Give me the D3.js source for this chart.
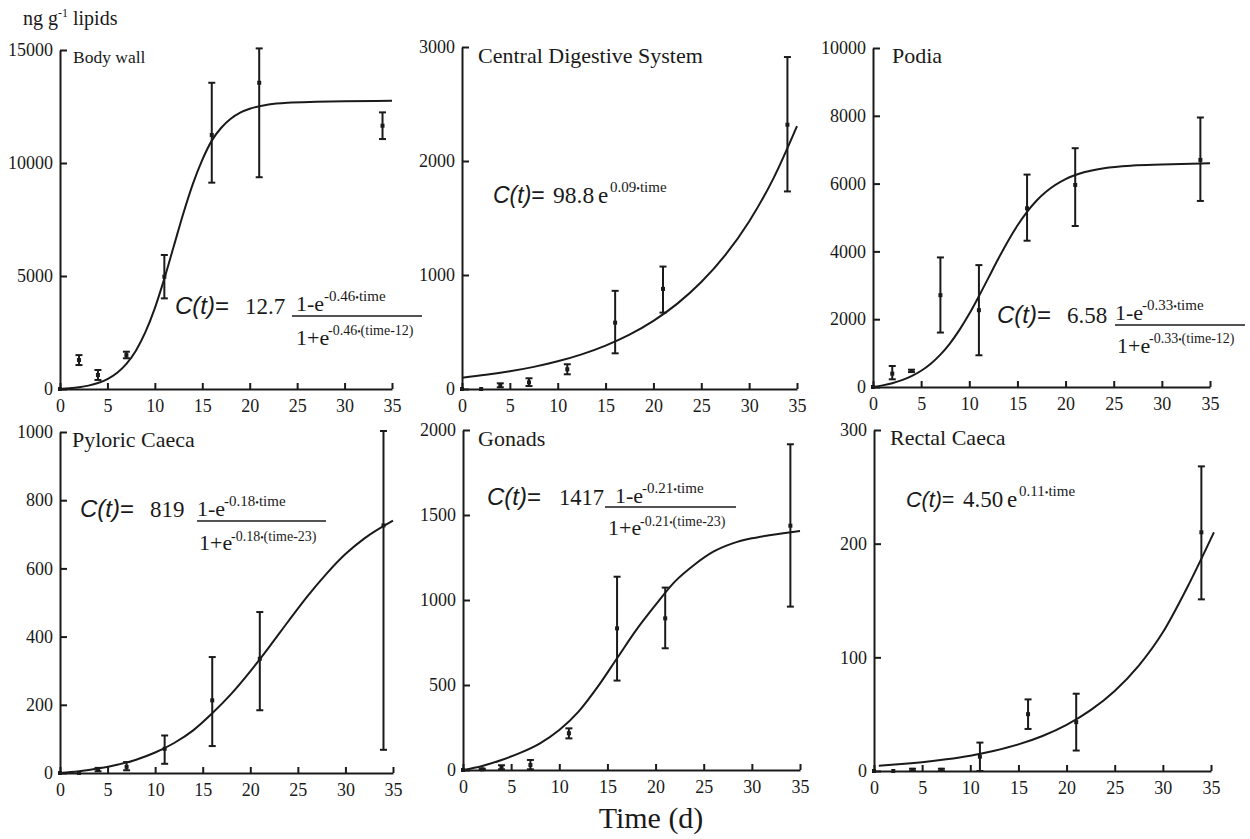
<!DOCTYPE html>
<html>
<head>
<meta charset="utf-8">
<script src="https://cdn.jsdelivr.net/npm/d3@7"></script>
<style>
body { margin: 0; background: #fff; }
svg text { font-family: "Liberation Serif", "Times New Roman", serif; }
.axis path, .axis line { stroke: #1a1a1a; stroke-width: 2; }
.axis text { font-size: 18px; fill: #1a1a1a; }
</style>
</head>
<body>
<div id="vis"></div>
<script>
// sampling days
var times = [0, 2, 4, 7, 11, 16, 21, 34];
var xTicks = [0, 5, 10, 15, 20, 25, 30, 35];

// measured means and error bar ends (ng g-1 lipids)
var bodyWallMean = [0, 1280, 620, 1500, 4970, 11240, 13550, 11650];
var bodyWallLow  = [0, 1060, 400, 1360, 4010, 9130, 9370, 11060];
var bodyWallHigh = [0, 1500, 840, 1650, 5930, 13550, 15070, 12240];

var cdsMean = [0, 0, 32, 58, 173, 582, 878, 2318];
var cdsLow  = [0, 0, 15, 26, 129, 313, 670, 1733];
var cdsHigh = [0, 0, 50, 94, 217, 861, 1074, 2912];

var podiaMean = [0, 394, 473, 2709, 2266, 5271, 5960, 6699];
var podiaLow  = [0, 227, 440, 1606, 936, 4315, 4749, 5488];
var podiaHigh = [0, 620, 510, 3822, 3596, 6266, 7044, 7950];

var pyloricMean = [0, 0, 10, 18, 71, 213, 335, 726];
var pyloricLow  = [0, 0, 5, 8, 27, 79, 184, 68];
var pyloricHigh = [0, 0, 15, 32, 110, 340, 472, 1003];

var gonadsMean = [0, 4, 16, 29, 216, 833, 892, 1437];
var gonadsLow  = [0, 0, 4, 4, 186, 526, 716, 961];
var gonadsHigh = [0, 8, 28, 59, 245, 1137, 1073, 1916];

var rectalMean = [0, 0, 1, 1, 12.6, 50, 43, 210];
var rectalLow  = [0, 0, 0, 0, 0, 37, 18, 151];
var rectalHigh = [0, 0, 2, 2, 25, 63, 68, 268];

// fitted curves
var bodyWallFitT = [0,1,2,3,4,5,6,7,8,9,10,11,12,13,14,15,16,17,18,19,20,22,24,27,30,35];
var bodyWallFit  = [0,30,76,149,263,439,708,1111,1696,2514,3582,4883,6325,7767,9067,10137,10990,11560,11960,12230,12400,12590,12670,12710,12730,12750];

var cdsFitT = [0,2.5,5,7.5,10,12.5,15,17.5,20,22.5,25,27.5,30,32.5,35];
var cdsFit  = [99,124,155,194,243,304,381,477,598,749,938,1174,1470,1841,2306];

var podiaFitT = [0,1,2,3,4,5,6,7,8,9,10,11,12,13,14,15,16,17,18,20,22,24,27,30,35];
var podiaFit  = [0,48,113,202,321,480,688,955,1289,1692,2159,2679,3227,3775,4295,4762,5167,5500,5767,6133,6341,6455,6533,6563,6600];

var pyloricFitT = [0,2,4,6,8,10,12,14,16,18,20,22,24,26,28,30,32,35];
var pyloricFit  = [0,5,13,24,39,60,88,125,175,232,298,370,445,518,584,642,688,740];

var gonadsFitT = [0,2,4,6,8,10,12,14,16,18,20,22,24,26,28,30,32,35];
var gonadsFit  = [0,24,59,102,157,235,343,490,657,824,971,1108,1206,1284,1333,1363,1382,1406];

var rectalFitT = [0.5,2.5,5,7.5,10,12.5,15,17.5,20,22.5,25,27.5,30,32.5,35.3];
var rectalFit  = [4.7,5.9,7.8,10.3,13.5,17.8,23.4,30.8,40.6,53.5,70.4,92.7,122,161,210];

var panels = [
  {title: "Body wall", mean: bodyWallMean, low: bodyWallLow, high: bodyWallHigh, fitT: bodyWallFitT, fit: bodyWallFit,
   yTicks: [0, 5000, 10000, 15000]},
  {title: "Central Digestive System", mean: cdsMean, low: cdsLow, high: cdsHigh, fitT: cdsFitT, fit: cdsFit,
   yTicks: [0, 1000, 2000, 3000]},
  {title: "Podia", mean: podiaMean, low: podiaLow, high: podiaHigh, fitT: podiaFitT, fit: podiaFit,
   yTicks: [0, 2000, 4000, 6000, 8000, 10000]},
  {title: "Pyloric Caeca", mean: pyloricMean, low: pyloricLow, high: pyloricHigh, fitT: pyloricFitT, fit: pyloricFit,
   yTicks: [0, 200, 400, 600, 800, 1000]},
  {title: "Gonads", mean: gonadsMean, low: gonadsLow, high: gonadsHigh, fitT: gonadsFitT, fit: gonadsFit,
   yTicks: [0, 500, 1000, 1500, 2000]},
  {title: "Rectal Caeca", mean: rectalMean, low: rectalLow, high: rectalHigh, fitT: rectalFitT, fit: rectalFit,
   yTicks: [0, 100, 200, 300]}
];

// where each panel sits on the page (px)
var boxes = [
  {x0: 60, x1: 392, yb: 389, yt: 50, tx: 73, ty: 63, ts: 17.5},
  {x0: 462, x1: 797, yb: 389, yt: 47, tx: 478, ty: 63, ts: 22},
  {x0: 873, x1: 1210, yb: 387, yt: 48, tx: 892, ty: 63, ts: 22},
  {x0: 60, x1: 393, yb: 773, yt: 432, tx: 72, ty: 447, ts: 22},
  {x0: 463, x1: 800, yb: 770, yt: 430, tx: 478, ty: 446, ts: 22},
  {x0: 874, x1: 1211, yb: 771, yt: 430, tx: 890, ty: 445, ts: 22}
];

// fitted equations, pieces [x, y, text, size]
var eqs = [
  {parts: [[175,314,"C(t)=",24],[245,314,"12.7",23],[296,311,"1-e",22],[324,301,"-0.46\u2022time",15],
           [296,345,"1+e",22],[328,335,"-0.46\u2022(time-12)",14]], bar: [292,422,316]},
  {parts: [[493,203,"C(t)=",23],[553,203,"98.8",23.5],[598,203,"e",23],[610,192,"0.09\u2022time",15]]},
  {parts: [[997,323,"C(t)=",24],[1067,323,"6.58",23],[1115,320,"1-e",22],[1142,310,"-0.33\u2022time",15],
           [1117,353,"1+e",22],[1149,343,"-0.33\u2022(time-12)",14]], bar: [1115,1245,325]},
  {parts: [[80,517,"C(t)=",24],[150,517,"819",23],[197,516,"1-e",22],[224,506,"-0.18\u2022time",15],
           [199,550,"1+e",22],[231,541,"-0.18\u2022(time-23)",14]], bar: [197,326,521]},
  {parts: [[487,505,"C(t)=",24],[559,505,"1417",22.5],[615,503,"1-e",22],[642,493,"-0.21\u2022time",15],
           [608,535,"1+e",22],[640,526,"-0.21\u2022(time-23)",14]], bar: [605,736,507]},
  {parts: [[906,507,"C(t)=",21.5],[963,507,"4.50",23],[1007,507,"e",23],[1019,496,"0.11\u2022time",15]]}
];

var ink = "#1a1a1a";
var serif = '"Liberation Serif", "Times New Roman", serif';
var sans = '"Liberation Sans", Arial, sans-serif';
var svg = d3.select('#vis').append('svg').attr('width', 1250).attr('height', 839);

panels.forEach(function(p, k) {
  var b = boxes[k];
  var x = d3.scaleLinear().domain([0, 35]).range([b.x0, b.x1]);
  var y = d3.scaleLinear().domain([0, d3.max(p.yTicks)]).range([b.yb, b.yt]);
  var g = svg.append('g');

  g.append('g').attr('class', 'axis')
    .attr('transform', 'translate(0,' + b.yb + ')')
    .call(d3.axisBottom(x).tickValues(xTicks).tickSizeInner(-6).tickSizeOuter(0).tickPadding(10))
    .attr('font-family', serif).attr('font-size', 18);

  g.append('g').attr('class', 'axis')
    .attr('transform', 'translate(' + b.x0 + ',0)')
    .call(d3.axisLeft(y).tickValues(p.yTicks).tickFormat(d3.format('d')).tickSizeInner(-7).tickSizeOuter(0).tickPadding(7))
    .attr('font-family', serif).attr('font-size', 18);

  g.selectAll('.tick line').attr('stroke-width', 1.6);

  g.append('text').attr('x', b.tx).attr('y', b.ty).attr('font-family', serif)
    .attr('font-size', b.ts).attr('fill', ink).text(p.title);

  // fitted curve
  var pts = p.fitT.map(function(t, i) { return [t, p.fit[i]]; });
  g.append('path').datum(pts)
    .attr('fill', 'none').attr('stroke', ink).attr('stroke-width', 2)
    .attr('d', d3.line().x(function(d) { return x(d[0]); }).y(function(d) { return y(d[1]); }).curve(d3.curveMonotoneX));

  // error bars
  var rows = times.map(function(t, i) { return {t: t, m: p.mean[i], lo: p.low[i], hi: p.high[i]}; });
  var bars = rows.filter(function(d) { return d.hi > d.lo; });
  g.selectAll('line.err').data(bars).enter().append('line')
    .attr('x1', function(d) { return x(d.t); }).attr('x2', function(d) { return x(d.t); })
    .attr('y1', function(d) { return y(d.lo); }).attr('y2', function(d) { return y(d.hi); })
    .attr('stroke', ink).attr('stroke-width', 2);
  ['lo', 'hi'].forEach(function(end) {
    g.selectAll('line.cap' + end).data(bars).enter().append('line')
      .attr('x1', function(d) { return x(d.t) - 3.5; }).attr('x2', function(d) { return x(d.t) + 3.5; })
      .attr('y1', function(d) { return y(d[end]); }).attr('y2', function(d) { return y(d[end]); })
      .attr('stroke', ink).attr('stroke-width', 2);
  });
  g.selectAll('rect.mean').data(rows).enter().append('rect')
    .attr('x', function(d) { return x(d.t) - 2; }).attr('y', function(d) { return y(d.m) - 2; })
    .attr('width', 4).attr('height', 4).attr('fill', ink);

  // equation
  var e = eqs[k];
  e.parts.forEach(function(q) {
    var t = g.append('text').attr('x', q[0]).attr('y', q[1]).attr('font-size', q[3])
      .attr('font-family', serif).attr('fill', ink);
    if (q[2] === 'C(t)=') {
      t.append('tspan').attr('font-family', sans).attr('font-style', 'italic').text('C(t)');
      t.append('tspan').attr('font-family', sans).text('=');
    } else {
      q[2].split('\u2022').forEach(function(s, j) {
        if (j > 0) t.append('tspan').attr('font-size', q[3] * 0.7).text('\u2022');
        t.append('tspan').text(s);
      });
    }
  });
  if (e.bar) {
    g.append('line').attr('x1', e.bar[0]).attr('x2', e.bar[1]).attr('y1', e.bar[2]).attr('y2', e.bar[2])
      .attr('stroke', ink).attr('stroke-width', 1.6);
  }
});

// shared labels
var yl = svg.append('text').attr('x', 23).attr('y', 25).attr('font-size', 20)
  .attr('font-family', serif).attr('fill', ink);
yl.append('tspan').text('ng g');
yl.append('tspan').attr('font-size', 12).attr('dy', -8).text('-1');
yl.append('tspan').attr('dy', 8).text(' lipids');

svg.append('text').attr('x', 651).attr('y', 828).attr('text-anchor', 'middle')
  .attr('font-family', serif).attr('font-size', 30).attr('fill', ink).text('Time (d)');
</script>
</body>
</html>
